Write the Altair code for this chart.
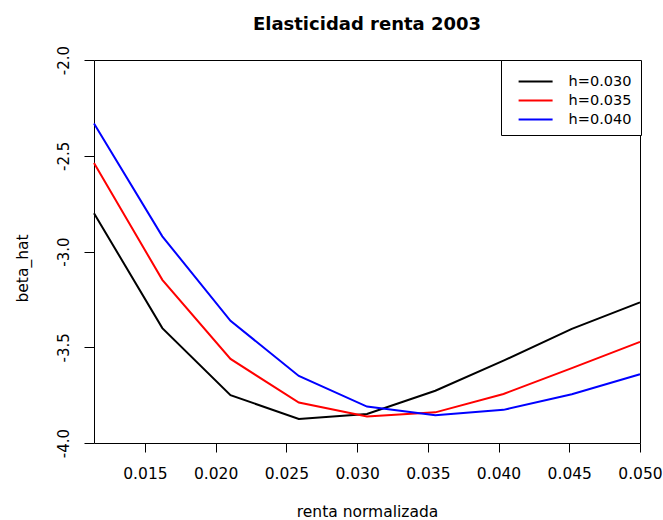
import altair as alt
import pandas as pd

# Data
renta = [0.0114, 0.01623, 0.02105, 0.02588, 0.0307, 0.03553, 0.04035, 0.04518, 0.0500]
h030 = [-2.80, -3.40, -3.75, -3.875, -3.848, -3.727, -3.57, -3.404, -3.266]
h035 = [-2.538, -3.148, -3.561, -3.789, -3.862, -3.840, -3.744, -3.609, -3.472]
h040 = [-2.332, -2.921, -3.362, -3.650, -3.810, -3.855, -3.827, -3.745, -3.641]
series_names = ["h=0.030", "h=0.035", "h=0.040"]
series_colors = ["#000000", "#FF0000", "#0000FF"]
x_ticks = [0.015, 0.020, 0.025, 0.030, 0.035, 0.040, 0.045, 0.050]
y_ticks = [-4.0, -3.5, -3.0, -2.5, -2.0]

rows = []
for name, vals in zip(series_names, [h030, h035, h040]):
    for xv, yv in zip(renta, vals):
        rows.append({"renta": xv, "beta_hat": yv, "serie": name})
df = pd.DataFrame(rows)

FONT = "DejaVu Sans"

chart = alt.Chart(df).mark_line(strokeWidth=2).encode(
    x=alt.X("renta:Q",
            scale=alt.Scale(domain=[renta[0], renta[-1]], nice=False, zero=False),
            axis=alt.Axis(values=x_ticks, format=".3f", title="renta normalizada",
                          grid=False, domain=False, tickColor="#000000", tickSize=9,
                          labelPadding=14, labelFontSize=15.5, labelFont=FONT,
                          labelColor="#000000", labelFlush=False, labelOverlap=False,
                          titleFont=FONT, titleFontSize=15.5, titleFontWeight="normal",
                          titleColor="#000000", titleBaseline="alphabetic", titleY=73)),
    y=alt.Y("beta_hat:Q",
            scale=alt.Scale(domain=[-4, -2], nice=False, zero=False),
            axis=alt.Axis(values=y_ticks, title="beta_hat",
                          labelExpr="replace(format(datum.value, '.1f'), '\u2212', '-')",
                          grid=False, domain=False, tickColor="#000000", tickSize=10,
                          labelAngle=270, labelAlign="center", labelBaseline="bottom",
                          labelPadding=13, labelFontSize=15, labelFont=FONT,
                          labelColor="#000000", labelFlush=False, labelOverlap=False,
                          titleFont=FONT, titleFontSize=15.5, titleFontWeight="normal",
                          titleColor="#000000", titleAngle=270, titleAlign="center",
                          titleBaseline="middle", titleX=-72, titleY=208)),
    color=alt.Color("serie:N",
                    scale=alt.Scale(domain=series_names, range=series_colors),
                    legend=alt.Legend(title=None, orient="none", legendX=407, legendY=0,
                                      symbolType="M-0.339,0H2.617", symbolSize=529,
                                      symbolStrokeWidth=2, labelOffset=33.6,
                                      labelFont=FONT, labelFontSize=14.5, labelColor="#000000",
                                      padding=9, rowPadding=-3.4,
                                      strokeColor="#000000", fillColor="#FFFFFF")),
).properties(
    width=546,
    height=383,
    title=alt.TitleParams("Elasticidad renta 2003", font=FONT, fontSize=18,
                          fontWeight="bold", color="#000000", anchor="middle",
                          frame="group", baseline="alphabetic", offset=0, dy=3),
    padding={"left": 94, "top": 60, "right": 23, "bottom": 77},
    autosize=alt.AutoSizeParams(type="none"),
    background="#FFFFFF",
).configure_view(stroke="#000000", strokeWidth=1)

chart.save("out.html", embed_options={"renderer": "svg", "actions": False})
